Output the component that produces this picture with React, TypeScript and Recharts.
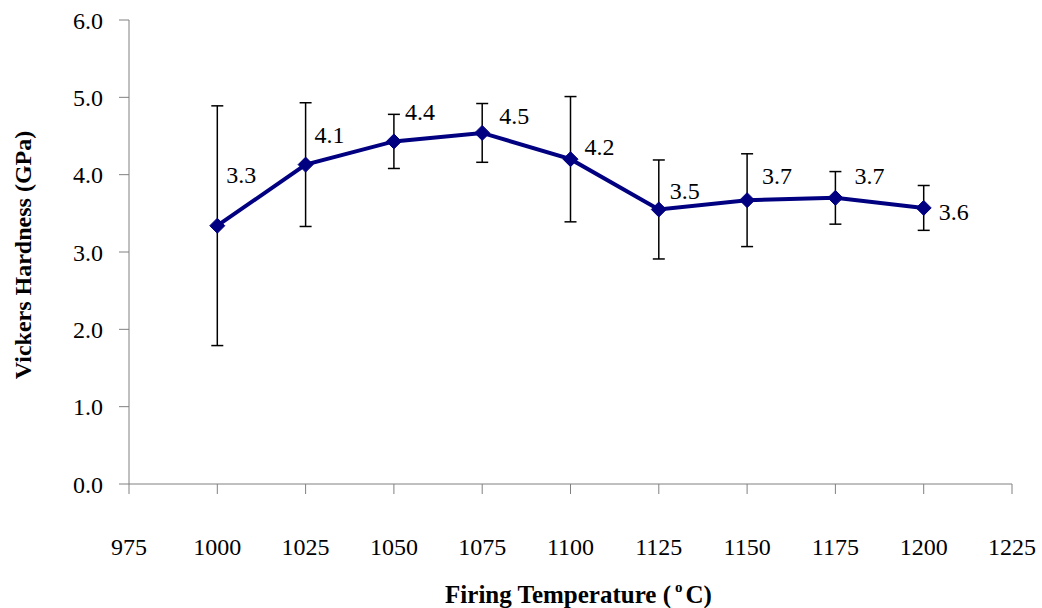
import { LineChart, Line, XAxis, YAxis, ErrorBar, LabelList, Label } from 'recharts';

// Firing temperature (°C) vs Vickers hardness (GPa)
const temperatures = [1000, 1025, 1050, 1075, 1100, 1125, 1150, 1175, 1200];
const hardness = [3.34, 4.13, 4.43, 4.54, 4.2, 3.55, 3.67, 3.7, 3.57];
const hardnessErr = [1.55, 0.8, 0.35, 0.38, 0.81, 0.64, 0.6, 0.34, 0.29];
const valueLabels = ['3.3', '4.1', '4.4', '4.5', '4.2', '3.5', '3.7', '3.7', '3.6'];

const xTicks = [975, 1000, 1025, 1050, 1075, 1100, 1125, 1150, 1175, 1200, 1225];
const yTicks = [0, 1, 2, 3, 4, 5, 6];

// where each value label sits relative to its marker (like Excel's hand-moved labels)
const labelNudge: [number, number][] = [
  [24, -51], [24, -30], [26, -29], [32, -17], [29, -12],
  [26, -18], [30, -24], [34, -22], [30, 4],
];

const FONT = 'Liberation Serif, DejaVu Serif, serif';
const NAVY = '#000080';
const AXIS = '#808080';

const chartData = temperatures.map((t, i) => ({
  temp: t,
  hv: hardness[i],
  err: hardnessErr[i],
  label: valueLabels[i],
}));

const Diamond = (props: any) => {
  const { cx, cy, index } = props;
  if (cx == null || cy == null) return <g key={`d-${index}`} />;
  const r = 7.5;
  return (
    <polygon
      key={`d-${index}`}
      points={`${cx},${cy - r} ${cx + r},${cy} ${cx},${cy + r} ${cx - r},${cy}`}
      fill={NAVY}
      stroke={NAVY}
    />
  );
};

const ValueLabel = (props: any) => {
  const { x, y, index } = props;
  const [dx, dy] = labelNudge[index] || [28, -20];
  return (
    <text
      x={x + dx}
      y={y + dy}
      textAnchor="middle"
      dominantBaseline="central"
      style={{ fontFamily: FONT, fontSize: 24 }}
      fill="#000"
    >
      {valueLabels[index]}
    </text>
  );
};

const XTitle = (props: any) => {
  const vb = props.viewBox || {};
  const cx = vb.x + vb.width / 2 + 8;
  return (
    <text x={cx} y={603} textAnchor="middle" style={{ fontFamily: FONT, fontSize: 25, fontWeight: 'bold' }} fill="#000">
      Firing Temperature (
      <tspan dx={4} dy={-11} style={{ fontSize: 15 }}>o</tspan>
      <tspan dx={3} dy={11}>C)</tspan>
    </text>
  );
};

const YTitle = (props: any) => {
  const vb = props.viewBox || {};
  const cy = vb.y + vb.height / 2;
  return (
    <text
      x={23}
      y={cy + 3}
      transform={`rotate(-90, 23, ${cy + 3})`}
      textAnchor="middle"
      dominantBaseline="central"
      style={{ fontFamily: FONT, fontSize: 24, fontWeight: 'bold' }}
      fill="#000"
    >
      Vickers Hardness (GPa)
    </text>
  );
};

export default function App() {
  return (
    <div style={{ position: 'absolute', left: 0, top: 0, width: 1042, height: 608, background: '#fff', fontFamily: FONT }}>
      <LineChart
        width={1042}
        height={608}
        data={chartData}
        margin={{ top: 20, right: 30, bottom: 0, left: 0 }}
        style={{ fontFamily: FONT }}
      >
        <XAxis
          dataKey="temp"
          type="number"
          domain={[975, 1225]}
          ticks={xTicks}
          interval={0}
          height={124}
          tickSize={10}
          tickMargin={44}
          stroke={AXIS}
          tick={{ fill: '#000', fontSize: 24, style: { fontFamily: FONT } }}
        >
          <Label content={<XTitle />} />
        </XAxis>
        <YAxis
          type="number"
          domain={[0, 6]}
          ticks={yTicks}
          interval={0}
          width={129}
          tickSize={10}
          tickMargin={16}
          stroke={AXIS}
          tickFormatter={(v: number) => v.toFixed(1)}
          tick={{ fill: '#000', fontSize: 24, style: { fontFamily: FONT } }}
        >
          <Label content={<YTitle />} />
        </YAxis>
        <Line
          dataKey="hv"
          stroke={NAVY}
          strokeWidth={4}
          dot={Diamond}
          activeDot={false}
          isAnimationActive={false}
        >
          <ErrorBar dataKey="err" direction="y" width={6} stroke="#000" strokeWidth={1.5} isAnimationActive={false} />
          <LabelList dataKey="label" content={<ValueLabel />} />
        </Line>
      </LineChart>
    </div>
  );
}
